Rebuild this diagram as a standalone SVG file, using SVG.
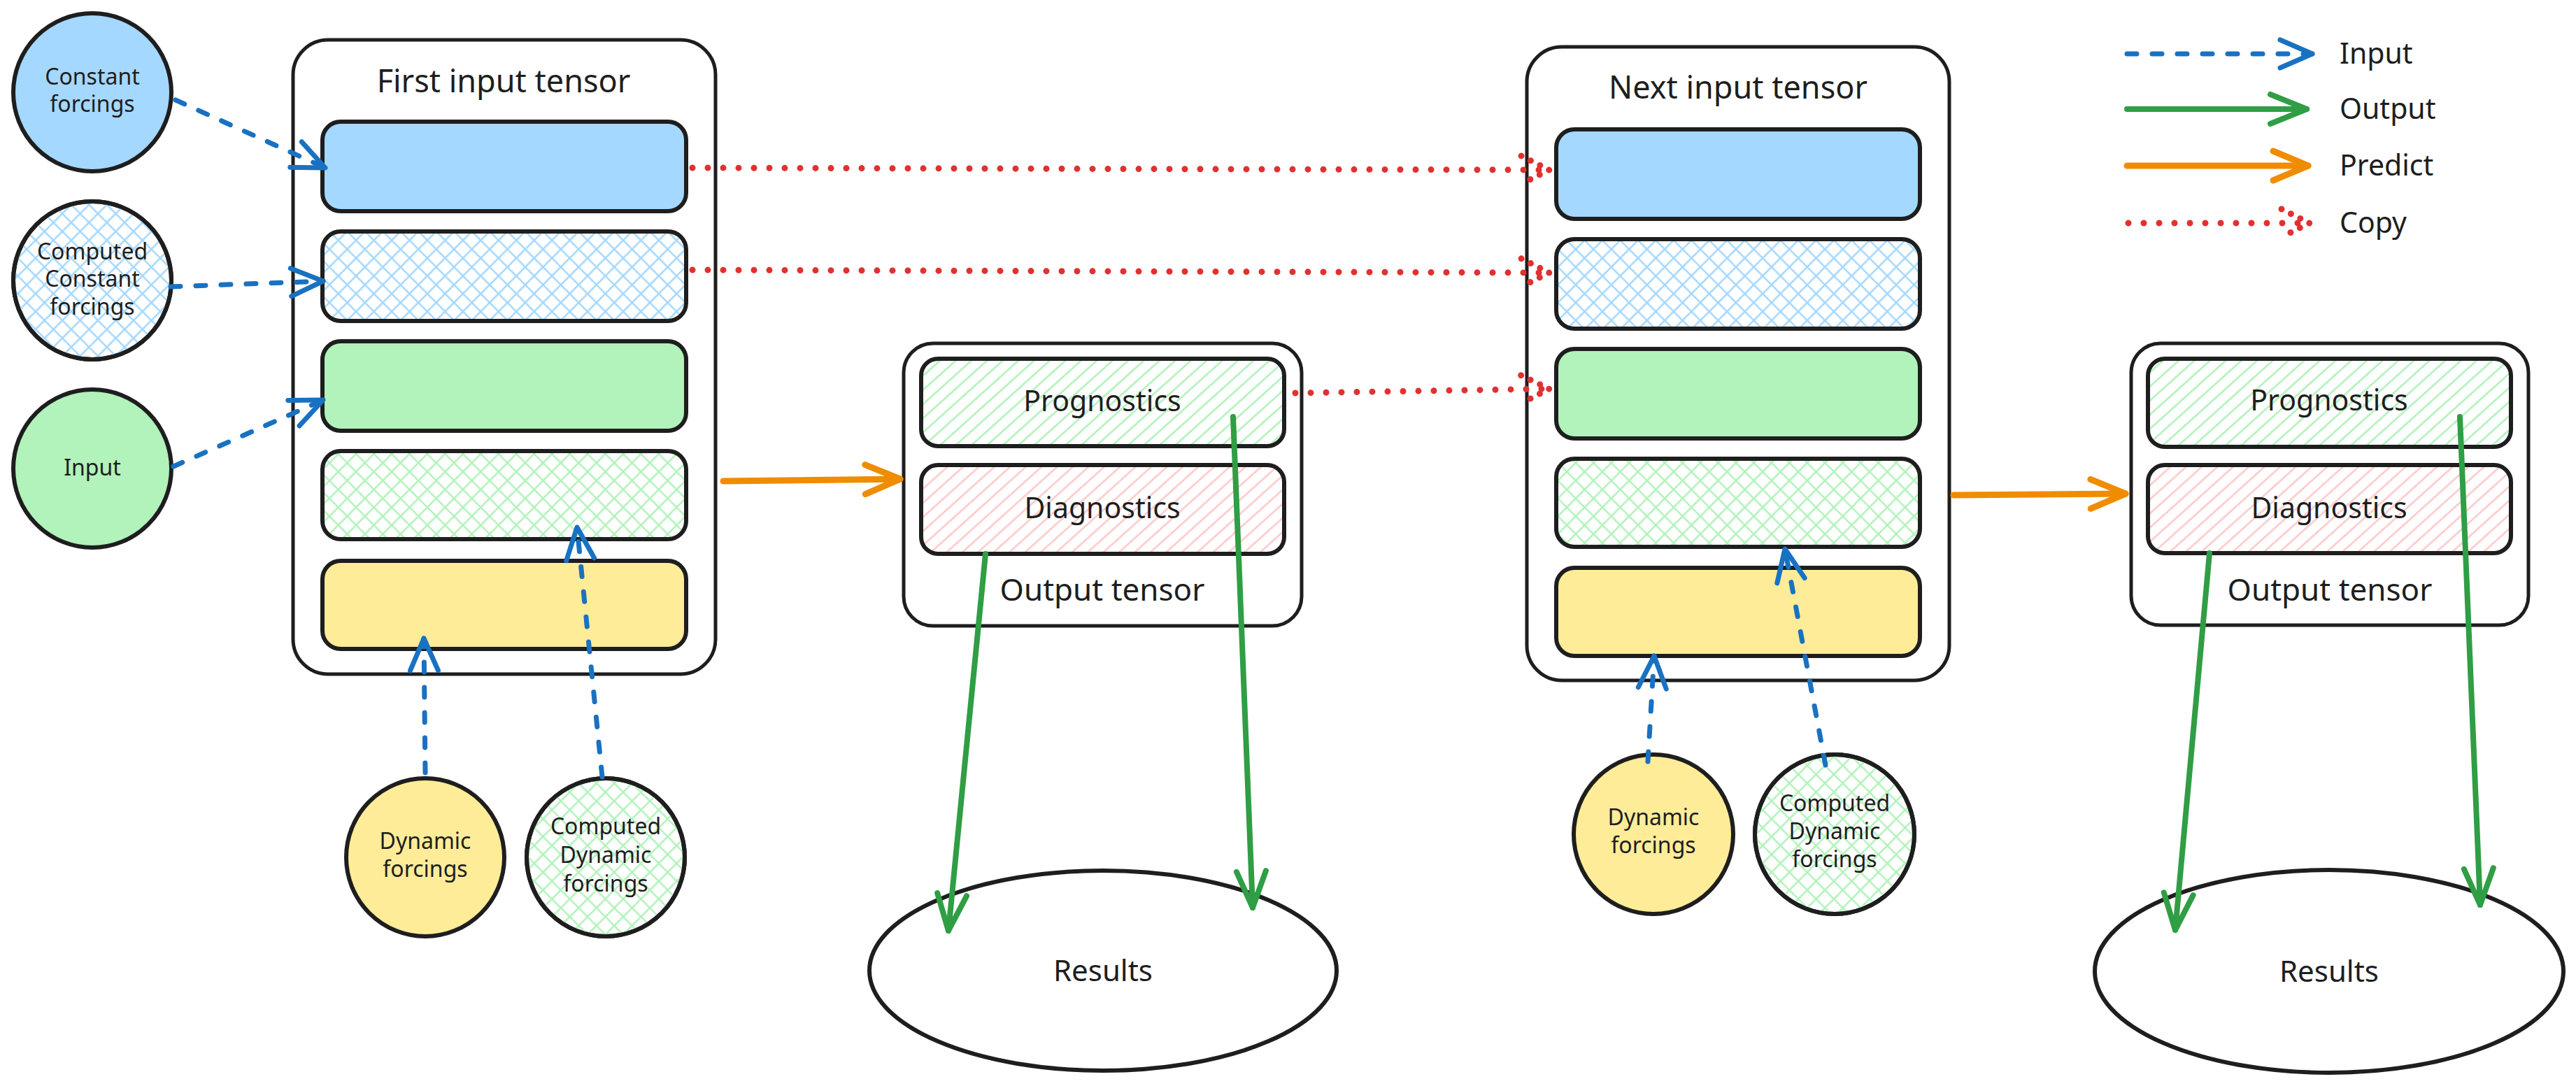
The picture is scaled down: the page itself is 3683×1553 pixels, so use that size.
<svg xmlns="http://www.w3.org/2000/svg" width="3683" height="1553" viewBox="0 0 3683 1553">
<defs>
<style>
.frame{fill:#ffffff;stroke:#1e1e1e;stroke-width:5}
.row{stroke:#1e1e1e;stroke-width:6}
.node{stroke:#1e1e1e;stroke-width:6}
.blue{fill:#a5d8ff}
.green{fill:#b2f2bb}
.yellow{fill:#ffec99}
.white{fill:#ffffff}
.xblue{fill:url(#xhatch-blue)}
.xgreen{fill:url(#xhatch-green)}
.hgreen{fill:url(#hatch-green)}
.hred{fill:url(#hatch-red)}
text{font-family:"Noto Sans","Liberation Sans",sans-serif;fill:#1e1e1e;text-anchor:middle}
.t-title{font-size:45px}
.t-out{font-size:44px}
.t-row{font-size:41px}
.t-res{font-size:42px}
.t-node{font-size:32px}
.t-legend{font-size:41px;text-anchor:start}
.input{fill:none;stroke:#1971c2;stroke-width:7;stroke-linecap:round;stroke-dasharray:14 22}
.output{fill:none;stroke:#2f9e44;stroke-width:8;stroke-linecap:round}
.predict{fill:none;stroke:#f08c00;stroke-width:9;stroke-linecap:round}
.copy{fill:none;stroke:#e03131;stroke-width:9;stroke-linecap:round;stroke-dasharray:0 22}
</style>
<pattern id="xhatch-blue" width="18" height="18" patternUnits="userSpaceOnUse" patternTransform="rotate(45)">
<path d="M9 0V18M0 9H18" stroke="#a5d8ff" stroke-width="2.6" fill="none"/>
</pattern>
<pattern id="xhatch-green" width="18" height="18" patternUnits="userSpaceOnUse" patternTransform="rotate(45)">
<path d="M9 0V18M0 9H18" stroke="#b2f2bb" stroke-width="2.6" fill="none"/>
</pattern>
<pattern id="hatch-green" width="15" height="15" patternUnits="userSpaceOnUse" patternTransform="rotate(48)">
<path d="M7.5 0V15" stroke="#b2f2bb" stroke-width="2.6" fill="none"/>
</pattern>
<pattern id="hatch-red" width="15" height="15" patternUnits="userSpaceOnUse" patternTransform="rotate(48)">
<path d="M7.5 0V15" stroke="#ffc9c9" stroke-width="2.6" fill="none"/>
</pattern>
<marker id="ah-input" markerUnits="userSpaceOnUse" markerWidth="60" markerHeight="50" refX="0" refY="0" orient="auto" overflow="visible">
<path d="M-46 -20L0 0L-46 20" fill="none" stroke="#1971c2" stroke-width="7" stroke-linecap="round" stroke-linejoin="round"/>
</marker>
<marker id="ah-output" markerUnits="userSpaceOnUse" markerWidth="60" markerHeight="50" refX="0" refY="0" orient="auto" overflow="visible">
<path d="M-52 -21L0 0L-52 21" fill="none" stroke="#2f9e44" stroke-width="8" stroke-linecap="round" stroke-linejoin="round"/>
</marker>
<marker id="ah-predict" markerUnits="userSpaceOnUse" markerWidth="60" markerHeight="50" refX="0" refY="0" orient="auto" overflow="visible">
<path d="M-50 -21L0 0L-50 21" fill="none" stroke="#f08c00" stroke-width="9" stroke-linecap="round" stroke-linejoin="round"/>
</marker>
<marker id="ah-copy" markerUnits="userSpaceOnUse" markerWidth="60" markerHeight="50" refX="0" refY="0" orient="auto" overflow="visible">
<path d="M-40 -20L0 0L-40 20" fill="none" stroke="#e03131" stroke-width="9" stroke-linecap="round" stroke-dasharray="0 15"/>
</marker>
</defs>

<rect width="3683" height="1553" fill="#ffffff"/>

<!-- forcing sources on the left -->
<g id="constant-forcings">
<circle class="node blue" cx="132" cy="132" r="113"/>
<text class="t-node" x="132" y="121">Constant</text>
<text class="t-node" x="132" y="160">forcings</text>
</g>
<g id="computed-constant-forcings">
<circle class="node white" cx="132" cy="401" r="113"/>
<circle class="node xblue" cx="132" cy="401" r="113"/>
<text class="t-node" x="132" y="371">Computed</text>
<text class="t-node" x="132" y="410">Constant</text>
<text class="t-node" x="132" y="450">forcings</text>
</g>
<g id="input">
<circle class="node green" cx="132" cy="670" r="113"/>
<text class="t-node" x="132" y="680">Input</text>
</g>

<!-- first input tensor -->
<g id="first-input-tensor">
<rect class="frame" x="419" y="57" width="604" height="907" rx="50"/>
<text class="t-title" x="720" y="132">First input tensor</text>
<rect id="first-row-constant" class="row blue" x="461" y="174" width="520" height="128" rx="26"/>
<rect id="first-row-computed-constant" class="row xblue" x="461" y="331" width="520" height="128" rx="26"/>
<rect id="first-row-input" class="row green" x="461" y="488" width="520" height="128" rx="26"/>
<rect id="first-row-computed-dynamic" class="row xgreen" x="461" y="645" width="520" height="126" rx="26"/>
<rect id="first-row-dynamic" class="row yellow" x="461" y="802" width="520" height="126" rx="26"/>
</g>

<g id="dynamic-forcings-1">
<circle class="node yellow" cx="608" cy="1226" r="113"/>
<text class="t-node" x="608" y="1214">Dynamic</text>
<text class="t-node" x="608" y="1254">forcings</text>
</g>
<g id="computed-dynamic-forcings-1">
<circle class="node white" cx="866" cy="1226" r="113"/>
<circle class="node xgreen" cx="866" cy="1226" r="113"/>
<text class="t-node" x="866" y="1193">Computed</text>
<text class="t-node" x="866" y="1234">Dynamic</text>
<text class="t-node" x="866" y="1275">forcings</text>
</g>

<!-- first prediction -->
<g id="output-tensor-1">
<rect class="frame" x="1292" y="491" width="569" height="404" rx="42"/>
<rect class="row hgreen" x="1317" y="513" width="519" height="125" rx="24"/>
<text class="t-row" x="1576" y="588">Prognostics</text>
<rect class="row hred" x="1317" y="665" width="519" height="127" rx="24"/>
<text class="t-row" x="1576" y="741">Diagnostics</text>
<text class="t-out" x="1576" y="859">Output tensor</text>
</g>
<g id="results-1">
<ellipse class="node white" cx="1577" cy="1388" rx="334" ry="143"/>
<text class="t-res" x="1577" y="1403">Results</text>
</g>

<!-- next input tensor -->
<g id="next-input-tensor">
<rect class="frame" x="2183" y="67" width="604" height="906" rx="50"/>
<text class="t-title" x="2485" y="141">Next input tensor</text>
<rect id="next-row-constant" class="row blue" x="2225" y="185" width="520" height="128" rx="26"/>
<rect id="next-row-computed-constant" class="row xblue" x="2225" y="342" width="520" height="128" rx="26"/>
<rect id="next-row-input" class="row green" x="2225" y="499" width="520" height="128" rx="26"/>
<rect id="next-row-computed-dynamic" class="row xgreen" x="2225" y="656" width="520" height="126" rx="26"/>
<rect id="next-row-dynamic" class="row yellow" x="2225" y="812" width="520" height="126" rx="26"/>
</g>

<g id="dynamic-forcings-2">
<circle class="node yellow" cx="2364" cy="1193" r="114"/>
<text class="t-node" x="2364" y="1180">Dynamic</text>
<text class="t-node" x="2364" y="1220">forcings</text>
</g>
<g id="computed-dynamic-forcings-2">
<circle class="node white" cx="2623" cy="1193" r="114"/>
<circle class="node xgreen" cx="2623" cy="1193" r="114"/>
<text class="t-node" x="2623" y="1160">Computed</text>
<text class="t-node" x="2623" y="1200">Dynamic</text>
<text class="t-node" x="2623" y="1240">forcings</text>
</g>

<!-- second prediction -->
<g id="output-tensor-2">
<rect class="frame" x="3047" y="491" width="568" height="403" rx="42"/>
<rect class="row hgreen" x="3071" y="513" width="519" height="126" rx="24"/>
<text class="t-row" x="3330" y="587">Prognostics</text>
<rect class="row hred" x="3071" y="665" width="519" height="126" rx="24"/>
<text class="t-row" x="3330" y="741">Diagnostics</text>
<text class="t-out" x="3331" y="859">Output tensor</text>
</g>
<g id="results-2">
<ellipse class="node white" cx="3330" cy="1389" rx="335" ry="145"/>
<text class="t-res" x="3330" y="1404">Results</text>
</g>

<!-- legend -->
<g id="legend">
<path class="input" d="M3041 77H3306" marker-end="url(#ah-input)"/>
<text class="t-legend" x="3345" y="91">Input</text>
<path class="output" d="M3041 156H3298" marker-end="url(#ah-output)"/>
<text class="t-legend" x="3345" y="170">Output</text>
<path class="predict" d="M3041 237H3300" marker-end="url(#ah-predict)"/>
<text class="t-legend" x="3345" y="251">Predict</text>
<path class="copy" d="M3043 319H3302" marker-end="url(#ah-copy)"/>
<text class="t-legend" x="3345" y="333">Copy</text>
</g>

<!-- connectors -->
<g id="connectors">
<path class="input" d="M251 143L465 240" marker-end="url(#ah-input)"/>
<path class="input" d="M244 410L462 402" marker-end="url(#ah-input)"/>
<path class="input" d="M248 667L462 572" marker-end="url(#ah-input)"/>
<path class="input" d="M608 1105L606 913" marker-end="url(#ah-input)"/>
<path class="input" d="M861 1111L825 754" marker-end="url(#ah-input)"/>
<path class="input" d="M2356 1089L2365 938" marker-end="url(#ah-input)"/>
<path class="input" d="M2610 1094L2552 785" marker-end="url(#ah-input)"/>

<path class="predict" d="M1034 688L1287 685" marker-end="url(#ah-predict)"/>
<path class="predict" d="M2793 708L3039 706" marker-end="url(#ah-predict)"/>

<path class="copy" d="M990 240L2215 243" marker-end="url(#ah-copy)"/>
<path class="copy" d="M990 386L2215 390" marker-end="url(#ah-copy)"/>
<path class="copy" d="M1852 562L2215 556" marker-end="url(#ah-copy)"/>

<path class="output" d="M1409 792L1356 1331" marker-end="url(#ah-output)"/>
<path class="output" d="M1763 596L1791 1298" marker-end="url(#ah-output)"/>
<path class="output" d="M3159 791L3110 1330" marker-end="url(#ah-output)"/>
<path class="output" d="M3517 596L3546 1294" marker-end="url(#ah-output)"/>
</g>
</svg>
